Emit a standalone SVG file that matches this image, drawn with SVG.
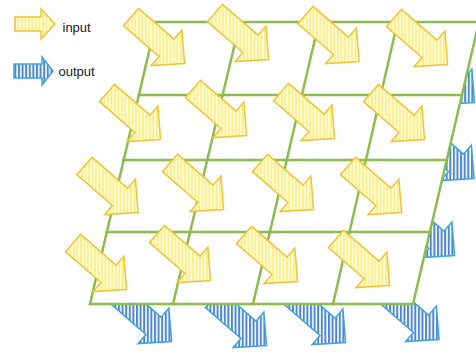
<svg xmlns="http://www.w3.org/2000/svg" xmlns:xlink="http://www.w3.org/1999/xlink" width="476" height="352" viewBox="0 0 476 352">
<style>
.grid{fill:none;stroke:#8cbc4c;stroke-width:2.5;stroke-linecap:square}
.frame{fill:#ffffff;stroke:#8cbc4c;stroke-width:2.5;stroke-linejoin:miter}
.yin{fill:url(#py);stroke:#efc437;stroke-width:1.5;stroke-linejoin:miter}
.bout{fill:url(#pb);stroke:#3ea6dc;stroke-width:1.5;stroke-linejoin:miter}
.yin0{fill:url(#py0);stroke:#efc437;stroke-width:1.5}
.bout0{fill:url(#pb0);stroke:#3ea6dc;stroke-width:1.5}
.lbl{font-family:"Liberation Sans",Arial,sans-serif;font-size:13px;fill:#222}
</style>
<defs>
<pattern id="py" width="3.5" height="20" patternUnits="userSpaceOnUse" patternTransform="rotate(-41)">
<rect width="3.5" height="20" fill="#fffce4"/><rect width="1.8" height="20" fill="#fbee82"/>
</pattern>
<pattern id="pb" width="3.6" height="20" patternUnits="userSpaceOnUse" patternTransform="rotate(-41)">
<rect width="3.6" height="20" fill="#ffffff"/><rect width="2" height="20" fill="#4f86d4"/>
</pattern>
<pattern id="py0" width="3.5" height="20" patternUnits="userSpaceOnUse">
<rect width="3.5" height="20" fill="#fffce4"/><rect width="1.8" height="20" fill="#fbee82"/>
</pattern>
<pattern id="pb0" width="3.6" height="20" patternUnits="userSpaceOnUse">
<rect width="3.6" height="20" fill="#ffffff"/><rect width="2" height="20" fill="#4f86d4"/>
</pattern>
<path id="arrow" d="M0,-11.5 L47,-11.5 L47,-23.5 L71,0 L47,23.5 L47,11.5 L0,11.5 Z"/>
</defs>

<g id="legend-input">
<path class="yin0" d="M15,17 L41,17 L41,9 L55,24 L41,39 L41,31 L15,31 Z"/>
<text class="lbl" x="62.5" y="32">input</text>
</g>
<g id="legend-output">
<path class="bout0" d="M14,64 L42,64 L42,57 L53,71 L42,85 L42,78 L14,78 Z"/>
<text class="lbl" x="58.5" y="76">output</text>
</g>

<g id="outputs">
<use href="#arrow" class="bout" transform="translate(421,56) rotate(41)"/>
<use href="#arrow" class="bout" transform="translate(420.5,132) rotate(41)"/>
<use href="#arrow" class="bout" transform="translate(401,209) rotate(41)"/>
<use href="#arrow" class="bout" transform="translate(118,295) rotate(41)"/>
<use href="#arrow" class="bout" transform="translate(213,299) rotate(41)"/>
<use href="#arrow" class="bout" transform="translate(292,296) rotate(41)"/>
<use href="#arrow" class="bout" transform="translate(385.5,293) rotate(41)"/>
</g>

<g id="connectors">
<path class="frame" d="M156,22 L479,22 L413,304 L90,304 Z"/>
<path class="grid" d="M138.9,95 H461.9 M123.7,160 H446.7 M106.9,232 H429.9 M240,22 L173,304 M319,22 L253,304 M397.5,22 L333,304"/>
</g>

<g id="inputs">
<use href="#arrow" class="yin" transform="translate(131,17) rotate(41)"/>
<use href="#arrow" class="yin" transform="translate(215,13) rotate(41)"/>
<use href="#arrow" class="yin" transform="translate(305.5,15) rotate(41)"/>
<use href="#arrow" class="yin" transform="translate(394,18) rotate(41)"/>
<use href="#arrow" class="yin" transform="translate(107,93) rotate(41)"/>
<use href="#arrow" class="yin" transform="translate(193,89) rotate(41)"/>
<use href="#arrow" class="yin" transform="translate(281,92) rotate(41)"/>
<use href="#arrow" class="yin" transform="translate(371,93) rotate(41)"/>
<use href="#arrow" class="yin" transform="translate(84.5,166) rotate(41)"/>
<use href="#arrow" class="yin" transform="translate(170,163) rotate(41)"/>
<use href="#arrow" class="yin" transform="translate(260,163) rotate(41)"/>
<use href="#arrow" class="yin" transform="translate(348,166) rotate(41)"/>
<use href="#arrow" class="yin" transform="translate(73,243) rotate(41)"/>
<use href="#arrow" class="yin" transform="translate(157,234) rotate(41)"/>
<use href="#arrow" class="yin" transform="translate(244,235) rotate(41)"/>
<use href="#arrow" class="yin" transform="translate(336,239) rotate(41)"/>
</g>
</svg>
